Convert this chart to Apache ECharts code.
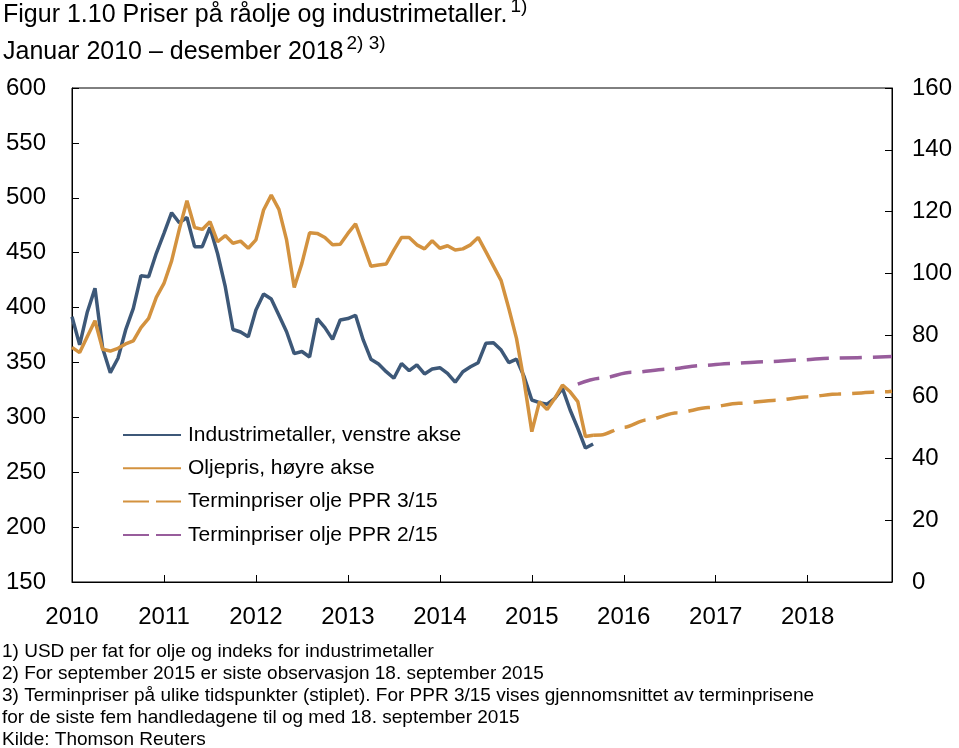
<!DOCTYPE html>
<html>
<head>
<meta charset="utf-8">
<script src="https://cdn.jsdelivr.net/npm/echarts@6/dist/echarts.min.js"></script>
<style>
html,body{margin:0;padding:0;background:#fff;}
#chart{width:959px;height:748px;}
</style>
</head>
<body>
<div id="chart"></div>
<script>
// Month index 0 = January 2010
var yearLabels = ['2010','2011','2012','2013','2014','2015','2016','2017','2018'];
var leftTicks = [150, 600, 50];
var rightTicks = [0, 160, 20];

// Industrimetaller (index), monthly Jan 2010 - Sep 2015, left axis
var metals = [391.7,366,396,417.5,363,340.7,353.8,379.6,399.3,429,428,449.4,
  467.6,486.4,477.3,482,455.5,455.5,473,449,419,380,377.7,373.5,
  397.8,412.4,407.8,393,378,358,360,355,390,381.7,371,388.7,
  390,393,370.5,353,348.6,341.6,335.6,349,342.5,347.7,339.5,344,
  345.2,340,332,341.6,346,349.8,367.4,368,361.3,349.8,353,337,
  315.8,313.4,312,317.3,326.4,306.7,290,272,275.7];

// Oljepris (USD per fat), monthly Jan 2010 - Sep 2015, right axis
var oil = [76,74.3,79.5,84.6,75.4,74.8,75.7,77.1,78.1,82.4,85.4,92.2,
  96.7,104,114.2,123.5,114.8,114.2,116.7,110.2,112.2,109.7,110.4,108.1,
  110.8,120.5,125.3,120.7,110.8,95.4,103.2,113.1,112.9,111.6,109.2,109.4,
  112.9,116,109.2,102.3,102.7,103,107.5,111.6,111.6,109.2,107.9,110.5,
  108.1,108.9,107.5,107.9,109.2,111.6,107,102.3,97.6,88.6,78.9,64.9,
  48.7,58.4,55.9,59.5,63.8,61.6,58.4,47.1,47.5];

// Forward curves: month index and price
var ppr315Months = [68,69,72,75,79,83,87,92,96,100,106,107];
var ppr315Values = [47.5,47.6,50.1,52.5,54.8,56.5,57.9,58.9,60.0,60.9,61.6,61.8];
var ppr215Months = [66,69,73,78,82,86,91,95,99,107];
var ppr215Values = [64.1,66.0,67.9,69.0,70.1,70.8,71.4,71.9,72.5,73.0];

var seriesNames = ['Industrimetaller, venstre akse','Oljepris, høyre akse','Terminpriser olje PPR 3/15','Terminpriser olje PPR 2/15'];

var titleLine1 = 'Figur 1.10 Priser på råolje og industrimetaller.';
var titleLine2 = 'Januar 2010 – desember 2018';
var footnotes = [
  '1) USD per fat for olje og indeks for industrimetaller',
  '2) For september 2015 er siste observasjon 18. september 2015',
  '3) Terminpriser på ulike tidspunkter (stiplet). For PPR 3/15 vises gjennomsnittet av terminprisene',
  'for de siste fem handledagene til og med 18. september 2015',
  'Kilde: Thomson Reuters'
];

var FONT = '"Liberation Sans", Arial, Helvetica, sans-serif';
var BLUE = '#3d5878', ORANGE = '#d3923f', PURPLE = '#985d9c';

function pairs(xs, ys){ return xs.map(function(x,i){ return [x, ys[i]]; }); }
function indexed(arr){ return arr.map(function(v,i){ return [i, v]; }); }

var chart = echarts.init(document.getElementById('chart'), null, {renderer:'canvas'});

var graphics = [{
  type:'text', x:3, y:-3,
  style:{
    text:'{a|' + titleLine1 + '}{s|1)}\n{a|' + titleLine2 + '}{s|2) 3)}',
    rich:{
      a:{fontSize:25, fontFamily:FONT, fill:'#000', lineHeight:37},
      s:{fontSize:19, fontFamily:FONT, fill:'#000', lineHeight:26, verticalAlign:'top', padding:[0,0,0,3]}
    }
  }
}];
footnotes.forEach(function(t, i){
  graphics.push({type:'text', x:2, y:652 + i*22, style:{text:t, fontSize:19, fontFamily:FONT, fill:'#000', verticalAlign:'middle'}});
});

var axisLbl = {fontSize:24, fontFamily:FONT, color:'#000'};
var legendDash = [26, 7];

chart.setOption({
  animation:false,
  backgroundColor:'#fff',
  grid:{left:72, right:67, top:88, bottom:166, show:true, borderColor:'#000', borderWidth:1},
  graphic:graphics,
  legend:{
    orient:'vertical', left:122, top:424, padding:0, itemWidth:58, itemHeight:14, itemGap:11.3,
    itemStyle:{opacity:0},
    textStyle:{fontSize:21, lineHeight:22, fontFamily:FONT, color:'#000', padding:[0,0,0,2]},
    data:[
      {name:seriesNames[0]},
      {name:seriesNames[1]},
      {name:seriesNames[2], lineStyle:{type:legendDash}},
      {name:seriesNames[3], lineStyle:{type:legendDash}}
    ],
    selectedMode:false
  },
  xAxis:{
    type:'value', min:0, max:107, interval:12,
    axisLine:{show:true, onZero:false, lineStyle:{color:'#000', width:1}},
    axisTick:{show:true, inside:true, length:7, lineStyle:{color:'#000'}},
    splitLine:{show:false},
    axisLabel:Object.assign({margin:23, showMaxLabel:false, formatter:function(v){
      var k = Math.round(v/12);
      return (v % 12 === 0 && yearLabels[k]) ? yearLabels[k] : '';
    }}, axisLbl)
  },
  yAxis:[{
    type:'value', position:'left', min:leftTicks[0], max:leftTicks[1], interval:leftTicks[2],
    axisLine:{show:true, lineStyle:{color:'#000', width:1}},
    axisTick:{show:true, inside:true, length:7, lineStyle:{color:'#000'}},
    splitLine:{show:false},
    axisLabel:Object.assign({margin:26}, axisLbl)
  },{
    type:'value', position:'right', min:rightTicks[0], max:rightTicks[1], interval:rightTicks[2],
    axisLine:{show:true, lineStyle:{color:'#000', width:1}},
    axisTick:{show:true, inside:true, length:7, lineStyle:{color:'#000'}},
    splitLine:{show:false},
    axisLabel:Object.assign({margin:20}, axisLbl)
  }],
  series:[{
    name:seriesNames[0], type:'line', yAxisIndex:0, data:indexed(metals),
    symbol:'none', lineStyle:{color:BLUE, width:3.5}, itemStyle:{color:BLUE}
  },{
    name:seriesNames[1], type:'line', yAxisIndex:1, data:indexed(oil),
    symbol:'none', lineStyle:{color:ORANGE, width:3.5}, itemStyle:{color:ORANGE}
  },{
    name:seriesNames[2], type:'line', yAxisIndex:1, data:pairs(ppr315Months, ppr315Values),
    symbol:'none', smooth:0.3, smoothMonotone:'x',
    lineStyle:{color:ORANGE, width:3.5, type:[22,11]}, itemStyle:{color:ORANGE}
  },{
    name:seriesNames[3], type:'line', yAxisIndex:1, data:pairs(ppr215Months, ppr215Values),
    symbol:'none', smooth:0.3, smoothMonotone:'x',
    lineStyle:{color:PURPLE, width:3.5, type:[22,11]}, itemStyle:{color:PURPLE}
  }]
});
</script>
</body>
</html>
